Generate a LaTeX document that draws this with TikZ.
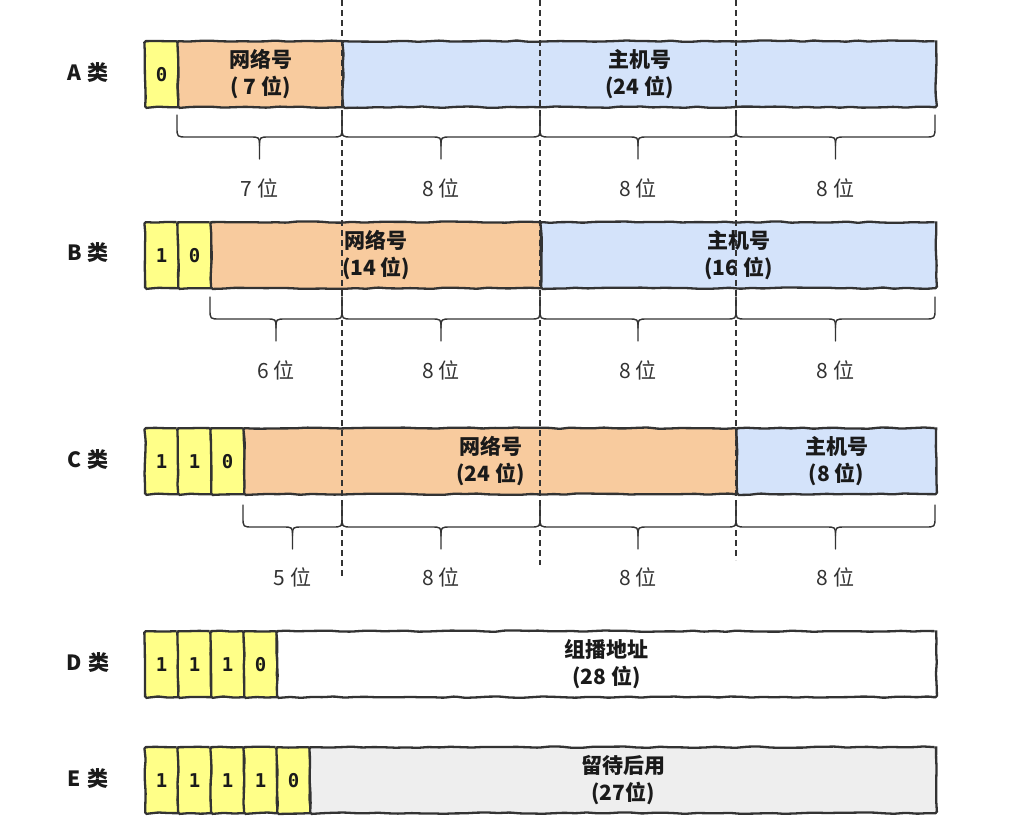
\documentclass[tikz,border=0pt]{standalone}
\usepackage{fontspec}
\setmainfont{Noto Sans CJK SC}
\newfontfamily\digitfont{DejaVu Sans Mono}
\usetikzlibrary{decorations.pathmorphing}
\definecolor{edge}{HTML}{333333}
\definecolor{bityellow}{HTML}{FFFF88}
\definecolor{netorange}{HTML}{F8CB9E}
\definecolor{hostblue}{HTML}{D4E3FA}
\definecolor{resgray}{HTML}{EEEEEE}
\definecolor{txt}{HTML}{1A1A1A}
\begin{document}
\begin{tikzpicture}[x=1pt,y=-1pt,
  sk/.style={draw=edge, line width=2.3pt, decorate,
    decoration={random steps,segment length=11pt,amplitude=0.7pt},
    rounded corners=1.5pt, inner sep=0pt, anchor=north west, text=txt},
  bitcell/.style={sk, fill=bityellow, minimum width=33pt, minimum height=66pt,
    font=\digitfont\bfseries\fontsize{19}{19}\selectfont},
  field/.style={sk, minimum height=66pt, align=center,
    font=\bfseries\fontsize{21}{27}\selectfont},
  rowlabel/.style={font=\bfseries\fontsize{21}{21}\selectfont, text=txt},
  bitlabel/.style={font=\fontsize{21}{21}\selectfont, text=edge},
  bracepath/.style={draw=edge, line width=1.4pt, line cap=round, line join=round},
  guide/.style={draw=edge, line width=1.3pt, dash pattern=on 6pt off 4pt}
]
\pgfmathsetseed{11}
\useasboundingbox (0,0) rectangle (1015,831);
\fill[white] (0,0) rectangle (1015,831);

\newcommand\wbrace[5]{%
  \pgfmathsetmacro\xm{(#1+#2)/2}
  \pgfmathsetmacro\ya{#3+12}
  \pgfmathsetmacro\yh{#3+22}
  \pgfmathsetmacro\yt{#3+31}
  \pgfmathsetmacro\ye{#3+44}
  \draw[bracepath] (#1,#3) -- (#1,\ya) .. controls (#1,\yh) .. (#1+10,\yh)
     -- (\xm-10,\yh) .. controls (\xm,\yh) .. (\xm,\yt) -- (\xm,\ye);
  \draw[bracepath] (\xm,\yt) .. controls (\xm,\yh) .. (\xm+10,\yh)
     -- (#2-10,\yh) .. controls (#2,\yh) .. (#2,\ya) -- (#2,#3);
  \node[bitlabel] (#5) at (\xm,#4) {\pgfkeysvalueof{/tikz/bl}};
}
\pgfkeys{/tikz/bl/.initial={}}

% ---------- Row A ----------
\node[rowlabel] (la) at (88,73) {A\hspace{0.3em}类};
\node[bitcell] (a0) at (144,40) {0};
\node[field, fill=netorange, minimum width=165pt] (anet) at (177,40) {网络号\\( 7 位)};
\node[field, fill=hostblue, minimum width=593pt] (ahost) at (342,40) {主机号\\(24 位)};
\pgfkeys{/tikz/bl=7 位}\wbrace{177}{342}{115}{188}{ba1}
\pgfkeys{/tikz/bl=8 位}\wbrace{342}{540}{115}{188}{ba2}
\pgfkeys{/tikz/bl=8 位}\wbrace{540}{736}{115}{188}{ba3}
\pgfkeys{/tikz/bl=8 位}\wbrace{736}{935}{115}{188}{ba4}

% ---------- Row B ----------
\node[rowlabel] (lb) at (88,253) {B\hspace{0.3em}类};
\node[bitcell] (b1) at (144,221) {1};
\node[bitcell] (b2) at (177,221) {0};
\node[field, fill=netorange, minimum width=330pt] (bnet) at (210,221) {网络号\\(14 位)};
\node[field, fill=hostblue, minimum width=395pt] (bhost) at (540,221) {主机号\\(16 位)};
\pgfkeys{/tikz/bl=6 位}\wbrace{210}{342}{297}{370}{bb1}
\pgfkeys{/tikz/bl=8 位}\wbrace{342}{540}{297}{370}{bb2}
\pgfkeys{/tikz/bl=8 位}\wbrace{540}{736}{297}{370}{bb3}
\pgfkeys{/tikz/bl=8 位}\wbrace{736}{935}{297}{370}{bb4}

% ---------- Row C ----------
\node[rowlabel] (lc) at (88,460) {C\hspace{0.3em}类};
\node[bitcell] (c1) at (144,427) {1};
\node[bitcell] (c2) at (177,427) {1};
\node[bitcell] (c3) at (210,427) {0};
\node[field, fill=netorange, minimum width=493pt] (cnet) at (243,427) {网络号\\(24 位)};
\node[field, fill=hostblue, minimum width=199pt] (chost) at (736,427) {主机号\\(8 位)};
\pgfkeys{/tikz/bl=5 位}\wbrace{243}{342}{505}{577}{bc1}
\pgfkeys{/tikz/bl=8 位}\wbrace{342}{540}{505}{577}{bc2}
\pgfkeys{/tikz/bl=8 位}\wbrace{540}{736}{505}{577}{bc3}
\pgfkeys{/tikz/bl=8 位}\wbrace{736}{935}{505}{577}{bc4}

% ---------- Row D ----------
\node[rowlabel] (ld) at (88,663) {D\hspace{0.3em}类};
\node[bitcell] (d1) at (144,630) {1};
\node[bitcell] (d2) at (177,630) {1};
\node[bitcell] (d3) at (210,630) {1};
\node[bitcell] (d4) at (243,630) {0};
\node[field, fill=white, minimum width=659pt] (dnet) at (276,630) {组播地址\\(28 位)};

% ---------- Row E ----------
\node[rowlabel] (le) at (88,779) {E\hspace{0.3em}类};
\node[bitcell] (e1) at (144,746) {1};
\node[bitcell] (e2) at (177,746) {1};
\node[bitcell] (e3) at (210,746) {1};
\node[bitcell] (e4) at (243,746) {1};
\node[bitcell] (e5) at (276,746) {0};
\node[field, fill=resgray, minimum width=626pt] (enet) at (309,746) {留待后用\\(27位)};

% ---------- byte guides ----------
\coordinate (g1t) at (342,0);  \coordinate (g1b) at (342,578);
\coordinate (g2t) at (540,0);  \coordinate (g2b) at (540,565);
\coordinate (g3t) at (736,0);  \coordinate (g3b) at (736,560);
\draw[guide] (g1t) -- (g1b);
\draw[guide] (g2t) -- (g2b);
\draw[guide] (g3t) -- (g3b);
\end{tikzpicture}
\end{document}
